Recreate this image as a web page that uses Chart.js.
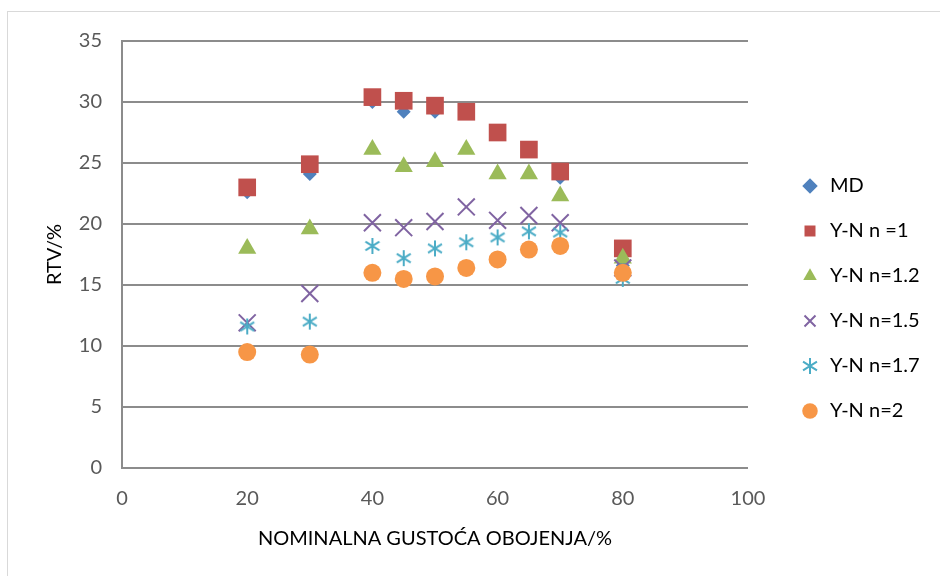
<!DOCTYPE html>
<html>
<head>
<meta charset="utf-8">
<script src="https://cdn.jsdelivr.net/npm/chart.js@4/dist/chart.umd.min.js"></script>
<style>
  html, body { margin: 0; padding: 0; background: #fff; }
  #wrap { position: relative; width: 940px; height: 576px; overflow: hidden; }
  #frame { position: absolute; left: 7px; top: 11px; width: 1000px; height: 1000px; border: 1px solid #d9d9d9; }
  #chart { position: absolute; left: 0; top: 0; }
</style>
</head>
<body>
<div id="wrap">
  <div id="frame"></div>
  <canvas id="chart" width="940" height="576"></canvas>
</div>
<script>
// nominal tone value (%) for all series
const xValues = [20, 30, 40, 45, 50, 55, 60, 65, 70, 80];

const seriesNames = ['MD', 'Y-N n =1', 'Y-N n=1.2', 'Y-N n=1.5', 'Y-N n=1.7', 'Y-N n=2'];

const md    = [22.6, 24.1, 30.0, 29.2, 29.2, 29.2, 27.4, 26.1, 23.8, 16.6];
const yn1   = [23.0, 24.9, 30.4, 30.1, 29.7, 29.2, 27.5, 26.1, 24.3, 18.0];
const yn12  = [18.0, 19.6, 26.1, 24.7, 25.1, 26.1, 24.1, 24.1, 22.3, 17.2];
const yn15  = [11.9, 14.3, 20.1, 19.7, 20.2, 21.4, 20.3, 20.7, 20.1, 16.4];
const yn17  = [11.6, 12.0, 18.2, 17.2, 18.0, 18.5, 18.9, 19.4, 19.3, 15.5];
const yn2   = [9.5, 9.3, 16.0, 15.5, 15.7, 16.4, 17.1, 17.9, 18.2, 16.0];

const xTicks = [0, 20, 40, 60, 80, 100];
const yTicks = [0, 5, 10, 15, 20, 25, 30, 35];

const colors = ['#4F81BD', '#C0504D', '#9BBB59', '#8064A2', '#4BACC6', '#F79646'];

// excel style asterisk marker (vertical bar + two diagonals)
function makeAsterisk(size, color) {
  const c = document.createElement('canvas');
  c.width = size;
  c.height = size;
  const g = c.getContext('2d');
  g.strokeStyle = color;
  g.lineWidth = 2;
  const m = size / 2;
  const r = size / 2 - 1;
  g.beginPath();
  g.moveTo(m, m - r); g.lineTo(m, m + r);
  g.moveTo(m - r * 0.87, m - r * 0.55); g.lineTo(m + r * 0.87, m + r * 0.55);
  g.moveTo(m - r * 0.87, m + r * 0.55); g.lineTo(m + r * 0.87, m - r * 0.55);
  g.stroke();
  return c;
}

function toPoints(arr) {
  return arr.map((v, i) => ({ x: xValues[i], y: v }));
}

const allValues = [md, yn1, yn12, yn15, yn17, yn2];
const styles = ['rectRot', 'rect', 'triangle', 'crossRot', makeAsterisk(18, colors[4]), 'circle'];
const radii = [7, 12.5, 10.5, 12, 9, 9];

const datasets = allValues.map((vals, i) => ({
  label: seriesNames[i],
  data: toPoints(vals),
  showLine: false,
  pointStyle: styles[i],
  pointRadius: radii[i],
  pointHoverRadius: radii[i],
  backgroundColor: colors[i],
  borderColor: colors[i],
  pointBorderWidth: (i === 3) ? 2 : 0,
  order: 5 - i
}));

// legend sits a bit to the right of the plot and a little higher than centre
const legendShift = {
  id: 'legendShift',
  afterLayout(chart) {
    const lg = chart.legend;
    lg.left += 27; lg.right += 27;
    lg.top -= 10; lg.bottom -= 10;
  }
};

const tickFont = { family: 'Lato', size: 20 };

new Chart(document.getElementById('chart'), {
  type: 'scatter',
  data: { datasets: datasets },
  plugins: [legendShift],
  options: {
    responsive: false,
    animation: false,
    layout: { padding: { left: 0, top: 41, right: 42, bottom: 0 } },
    plugins: {
      tooltip: { enabled: false },
      legend: {
        position: 'right',
        maxWidth: 150,
        labels: {
          usePointStyle: true,
          boxHeight: 11,
          padding: 25,
          color: '#000',
          font: { family: 'Lato', size: 20 },
          sort: (a, b) => a.datasetIndex - b.datasetIndex
        }
      }
    },
    scales: {
      x: {
        type: 'linear',
        min: 0,
        max: 100,
        afterBuildTicks: (s) => { s.ticks = xTicks.map((v) => ({ value: v })); },
        afterFit: (s) => { s.height = 108; },
        grid: { display: false, drawTicks: false },
        border: { display: false },
        ticks: { color: '#595959', font: tickFont, padding: 19 },
        title: {
          display: true,
          text: 'NOMINALNA GUSTOĆA OBOJENJA/%',
          color: '#000',
          font: { family: 'Lato', size: 20 },
          padding: { top: 25, bottom: 25 }
        }
      },
      y: {
        type: 'linear',
        min: 0,
        max: 35,
        afterBuildTicks: (s) => { s.ticks = yTicks.map((v) => ({ value: v })); },
        afterFit: (s) => { s.width = 122; },
        grid: { color: '#8c8c8c', lineWidth: 2, drawTicks: false },
        border: { display: true, color: '#8c8c8c', width: 2 },
        ticks: { color: '#595959', font: tickFont, padding: 20 },
        title: {
          display: true,
          text: 'RTV/%',
          color: '#000',
          font: { family: 'Lato', size: 20 },
          padding: { top: 43, bottom: 43 }
        }
      }
    }
  }
});
</script>
</body>
</html>
